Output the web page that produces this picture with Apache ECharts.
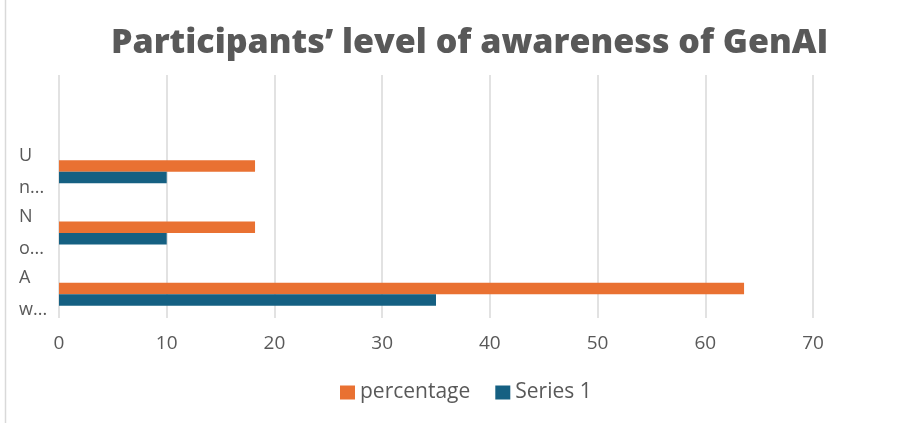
<!DOCTYPE html>
<html>
<head>
<meta charset="utf-8">
<script src="https://cdn.jsdelivr.net/npm/echarts@6/dist/echarts.min.js"></script>
<style>
  html, body { margin: 0; padding: 0; background: #fff; }
  #chart { width: 912px; height: 423px; }
</style>
</head>
<body>
<div id="chart"></div>
<script>
// data (categories bottom to top)
var categories = ['A\nw...', 'N\no...', 'U\nn...']
var percentage = [63.6, 18.2, 18.2]
var series1 = [35, 10, 10]
var xTicks = [0, 10, 20, 30, 40, 50, 60, 70]

var textColor = '#595959'
var gridColor = '#d9d9d9'
var font = 'Open Sans'

var chart = echarts.init(document.getElementById('chart'))

chart.setOption({
  animation: false,
  textStyle: { fontFamily: font },
  title: {
    text: 'Participants\u2019 level of awareness of GenAI',
    left: 106,
    top: 21,
    textStyle: {
      fontFamily: font,
      fontWeight: 800,
      fontSize: 34,
      color: textColor
    }
  },
  legend: {
    data: ['percentage', 'Series 1'],
    top: 382,
    left: 340,
    padding: 0,
    itemWidth: 15,
    itemHeight: 14,
    itemGap: 25,
    icon: 'rect',
    textStyle: { fontFamily: font, fontSize: 21, color: textColor }
  },
  // grid 0 carries the value axis and its gridlines, grid 1 the bars
  grid: [
    { left: 59, right: 99, top: 75, bottom: 105 },
    { left: 59, right: 99, top: 141, bottom: 98 }
  ],
  xAxis: [{
    gridIndex: 0,
    type: 'value',
    min: 0,
    max: 70,
    interval: 10,
    axisLine: { show: false },
    axisTick: { show: false },
    axisLabel: {
      fontFamily: font,
      fontSize: 19,
      color: textColor,
      margin: 16,
      formatter: function (v) { return xTicks.indexOf(v) >= 0 ? String(v) : '' }
    },
    splitLine: { lineStyle: { color: gridColor, width: 1.5 } }
  }, {
    gridIndex: 1,
    type: 'value',
    min: 0,
    max: 70,
    show: false
  }],
  yAxis: [{
    gridIndex: 0,
    type: 'category',
    data: [''],
    show: false
  }, {
    gridIndex: 1,
    type: 'category',
    data: categories,
    axisLine: { show: false },
    axisTick: { show: false },
    axisLabel: {
      interval: 0,
      fontFamily: font,
      fontSize: 18,
      color: textColor,
      lineHeight: 32,
      align: 'left',
      margin: 40
    }
  }],
  series: [{
    name: 'percentage',
    type: 'bar',
    xAxisIndex: 1,
    yAxisIndex: 1,
    data: percentage,
    barWidth: 11.5,
    barGap: '0%',
    itemStyle: { color: '#E97132' }
  }, {
    name: 'Series 1',
    type: 'bar',
    xAxisIndex: 1,
    yAxisIndex: 1,
    data: series1,
    barWidth: 11.5,
    barGap: '0%',
    itemStyle: { color: '#156082' }
  }],
  graphic: [{
    type: 'line',
    shape: { x1: 5.5, y1: 0, x2: 5.5, y2: 423 },
    style: { stroke: '#d9d9d9', lineWidth: 1.5 }
  }]
})
</script>
</body>
</html>
